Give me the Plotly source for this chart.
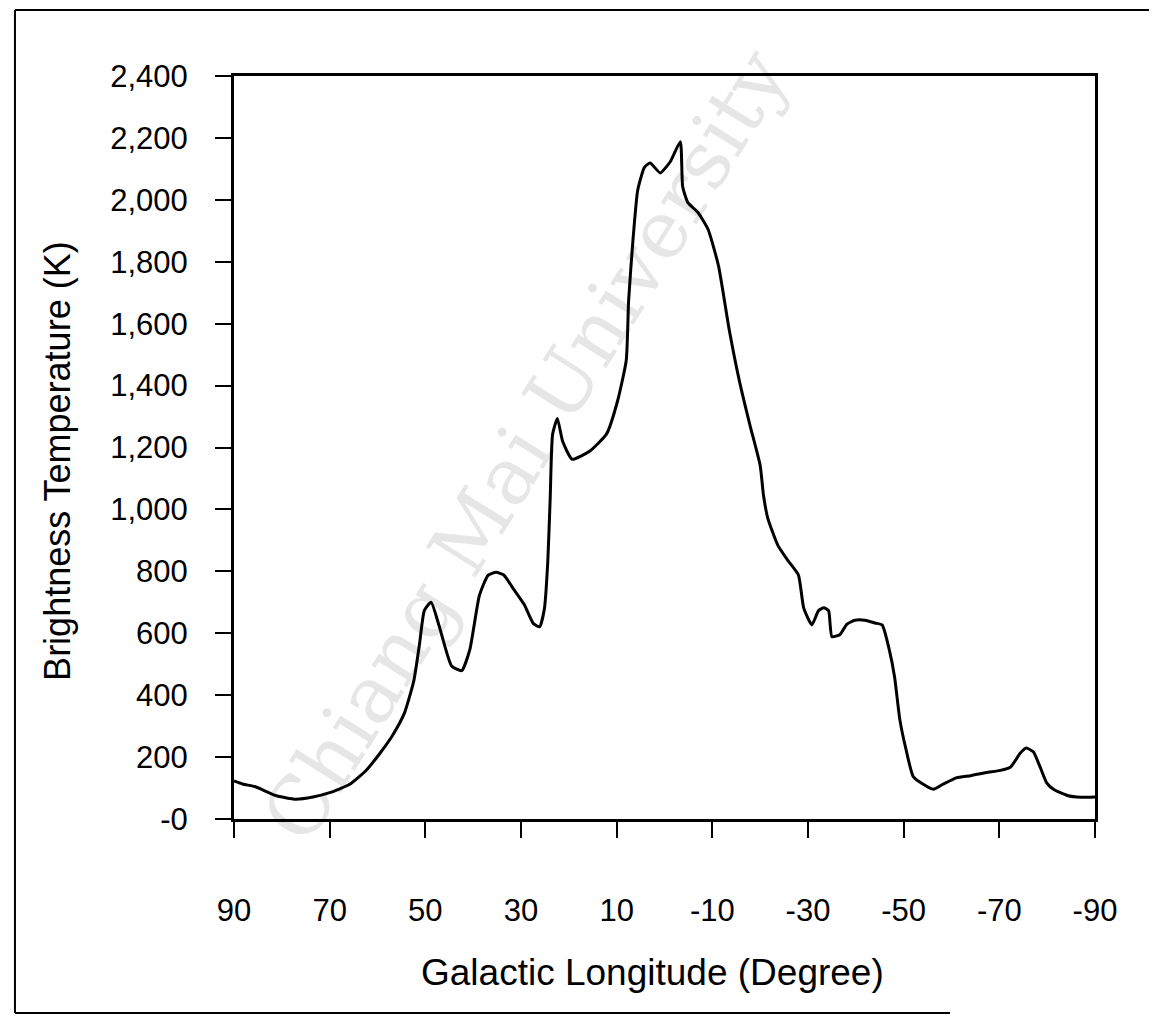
import plotly.graph_objects as go

# Galactic longitude (degrees) and brightness temperature (K)
longitude = [90, 88.2, 85.5, 81.3, 77.1, 73.5, 70.0, 65.8, 62.5, 59.6,
             56.9, 54.4, 52.4, 51.2, 50.2, 48.8, 47.1, 44.5, 42.4, 40.7,
             38.7, 36.9, 35.2, 33.6, 31.4, 29.3, 27.4, 26.1, 25.1, 24.4,
             23.9, 23.4, 22.4, 21.3, 19.3, 15.6, 12.1, 9.8, 8.0, 7.5,
             6.6, 5.6, 4.2, 3.0, 0.9, -1.2, -3.3, -3.8, -4.9, -7.0,
             -9.1, -11.3, -13.5, -15.7, -17.9, -20.0, -20.7, -21.6, -23.7, -25.9,
             -28.0, -29.1, -30.8, -32.2, -33.3, -34.3, -35.0, -36.7, -38.1, -39.8,
             -41.9, -44.0, -45.5, -47.0, -48.1, -49.2, -50.5, -52.0, -54.1, -56.2,
             -58.3, -61.0, -64.0, -67.3, -70.2, -72.3, -74.4, -75.6, -77.1, -78.6,
             -79.9, -81.4, -84.2, -87.1, -90]
temperature = [123, 113, 104, 76, 64, 71, 85, 112, 155, 210,
               269, 341, 447, 567, 674, 700, 623, 494, 479, 547,
               722, 787, 797, 788, 739, 692, 631, 621, 680, 832,
               1035, 1242, 1294, 1220, 1162, 1189, 1244, 1351, 1481, 1675,
               1869, 2031, 2105, 2119, 2087, 2123, 2188, 2042, 1991, 1959,
               1905, 1786, 1583, 1412, 1270, 1142, 1045, 971, 884, 833,
               788, 682, 627, 673, 682, 673, 589, 596, 629, 642,
               642, 633, 627, 546, 459, 321, 224, 137, 112, 96,
               113, 133, 140, 150, 157, 167, 213, 229, 217, 165,
               117, 95, 76, 70, 71]

x_ticks = [90, 70, 50, 30, 10, -10, -30, -50, -70, -90]
x_tick_labels = ["90", "70", "50", "30", "10", "-10", "-30", "-50", "-70", "-90"]
y_ticks = [0, 200, 400, 600, 800, 1000, 1200, 1400, 1600, 1800, 2000, 2200, 2400]
y_tick_labels = ["-0", "200", "400", "600", "800", "1,000", "1,200", "1,400",
                 "1,600", "1,800", "2,000", "2,200", "2,400"]

x_title = "Galactic Longitude (Degree)"
y_title = "Brightness Temperature (K)"
watermark = "Chiang Mai University"

FONT = "Liberation Sans, Arial, sans-serif"

fig = go.Figure()
fig.add_trace(go.Scatter(
    x=longitude, y=temperature, mode="lines",
    line=dict(color="black", width=3, shape="spline", smoothing=0.5),
    showlegend=False, hoverinfo="skip",
))

fig.update_layout(
    width=1157, height=1029,
    margin=dict(l=226, r=70, t=68, b=218),
    paper_bgcolor="white", plot_bgcolor="white",
    font=dict(family=FONT, color="black", size=31),
    showlegend=False,
)
fig.update_xaxes(
    range=[90, -90], tickvals=x_ticks, ticktext=x_tick_labels,
    ticks="outside", ticklen=16, tickwidth=2, tickcolor="black",
    showline=True, linewidth=3, linecolor="black", mirror=True,
    showgrid=False, zeroline=False, ticklabelstandoff=46,
    tickfont=dict(size=31),
)
fig.update_yaxes(
    range=[0, 2400], tickvals=y_ticks, ticktext=y_tick_labels,
    ticks="outside", ticklen=16, tickwidth=2, tickcolor="black",
    showline=True, linewidth=3, linecolor="black", mirror=True,
    showgrid=False, zeroline=False, ticklabelstandoff=21,
    tickfont=dict(size=31),
)

# faint diagonal watermark from the scanned page, drawn beneath the curve
fig.add_shape(type="line", xref="paper", yref="paper",
              x0=0.194, y0=0.128, x1=0.563, y1=0.8116,
              line=dict(color="rgba(0,0,0,0)", width=0), layer="below",
              label=dict(text=watermark, textposition="middle", textangle=-58,
                         font=dict(size=80, color="#e6e6e6", family="DejaVu Serif")))

# axis titles
fig.add_annotation(text=x_title, xref="paper", yref="paper",
                   x=0.4855, y=-0.206, showarrow=False,
                   font=dict(size=37), xanchor="center", yanchor="middle")
fig.add_annotation(text=y_title, xref="paper", yref="paper",
                   x=-0.2044, y=0.482, showarrow=False, textangle=-90,
                   font=dict(size=36), xanchor="center", yanchor="middle")

# outer page frame
frame = dict(color="black", width=2)
fig.add_shape(type="line", xref="paper", yref="paper", x0=-0.2544, x1=1.0639, y0=1.0888, y1=1.0888, line=frame)
fig.add_shape(type="line", xref="paper", yref="paper", x0=-0.2544, x1=-0.2544, y0=1.0888, y1=-0.2611, line=frame)
fig.add_shape(type="line", xref="paper", yref="paper", x0=-0.2544, x1=0.8316, y0=-0.2611, y1=-0.2611, line=frame)
fig.add_shape(type="line", xref="paper", yref="paper", x0=1.0639, x1=1.0639, y0=1.0888, y1=-0.2826, line=frame)

fig.write_html("out.html")
